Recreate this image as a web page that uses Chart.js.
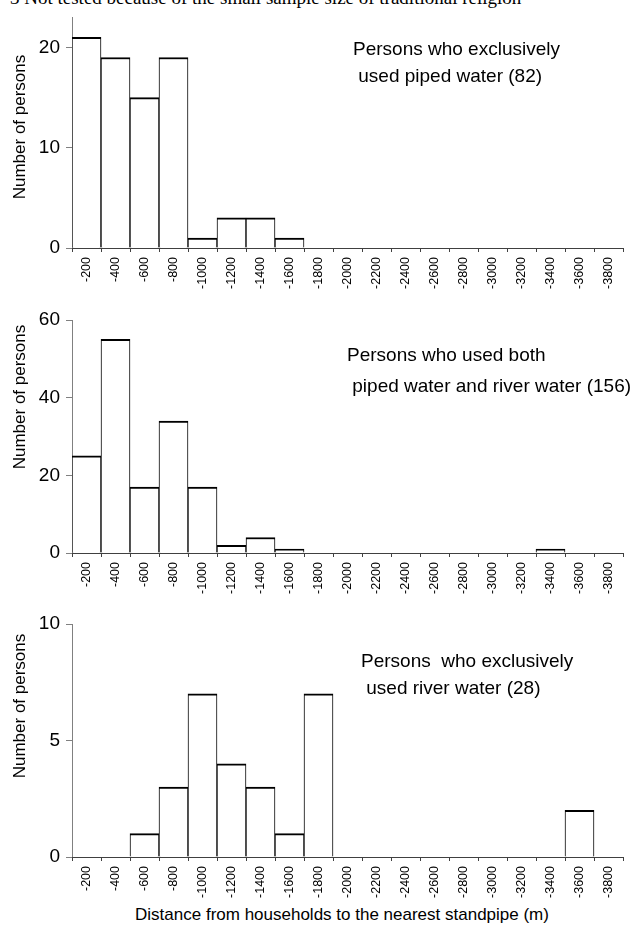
<!DOCTYPE html>
<html><head><meta charset="utf-8">
<script src="https://cdn.jsdelivr.net/npm/chart.js@4.4.0/dist/chart.umd.min.js"></script>
<style>
html,body{margin:0;padding:0;background:#fff;}
#wrap{position:relative;width:634px;height:930px;overflow:hidden;font-family:'Liberation Sans',Arial,sans-serif;color:#000;}
canvas{position:absolute;left:0;}
.t{position:absolute;white-space:pre;font-size:19px;line-height:19px;}
.yt{position:absolute;white-space:pre;font-size:17px;line-height:17px;transform:translate(-50%,-50%) rotate(-90deg);}
.note{position:absolute;left:10px;top:-12px;white-space:pre;font-family:'Liberation Serif','Times New Roman',serif;font-size:19px;line-height:19px;}
.xt{position:absolute;white-space:pre;font-size:17px;line-height:17px;transform:translateX(-50%);}
</style></head><body>
<div id="wrap">
<div class="note">3 Not tested because of the small sample size of traditional religion</div>
<canvas id="c1" width="634" height="300" style="top:0px"></canvas>
<canvas id="c2" width="634" height="300" style="top:300px"></canvas>
<canvas id="c3" width="634" height="300" style="top:600px"></canvas>
<div class="yt" style="left:19px;top:127px">Number of persons</div>
<div class="yt" style="left:19px;top:397px">Number of persons</div>
<div class="yt" style="left:19px;top:706px">Number of persons</div>
<div class="t" style="left:353px;top:39px">Persons who exclusively</div>
<div class="t" style="left:353px;top:66px"> used piped water (82)</div>
<div class="t" style="left:347px;top:345px">Persons who used both</div>
<div class="t" style="left:347px;top:376px"> piped water and river water (156)</div>
<div class="t" style="left:361px;top:651px">Persons  who exclusively</div>
<div class="t" style="left:361px;top:678px"> used river water (28)</div>
<div class="xt" style="left:342px;top:906px">Distance from households to the nearest standpipe (m)</div>
</div>
<script>
const categories = ['-200','-400','-600','-800','-1000','-1200','-1400','-1600','-1800','-2000','-2200','-2400','-2600','-2800','-3000','-3200','-3400','-3600','-3800'];
const pipedOnly = [21,19,15,19,1,3,3,1,0,0,0,0,0,0,0,0,0,0,0];
const pipedAndRiver = [25,55,17,34,17,2,4,1,0,0,0,0,0,0,0,0,1,0,0];
const riverOnly = [0,0,1,3,7,4,3,1,7,0,0,0,0,0,0,0,0,2,0];
const yMaxes = [23,60,10];
const ySteps = [10,20,5];

const FONT = "'Liberation Sans', Arial, sans-serif";

function makeChart(id, values, yMax, yStep, padTop, xH){
  return new Chart(document.getElementById(id), {
    type:'bar',
    data:{labels:categories, datasets:[{data:values, backgroundColor:'#ffffff', borderColor:'#000000',
      borderWidth:{top:2,left:1,right:1,bottom:0}, borderSkipped:false, barPercentage:1, categoryPercentage:1}]},
    options:{responsive:false, animation:false, events:[],
      layout:{padding:{top:padTop,left:0,right:11,bottom:0}},
      plugins:{legend:{display:false}, tooltip:{enabled:false}, title:{display:false}},
      scales:{
        x:{offset:true,
          grid:{offset:true, drawOnChartArea:false, drawTicks:true, tickLength:4, tickColor:'#404040', lineWidth:1},
          border:{display:true, color:'#404040', width:1, z:1},
          ticks:{autoSkip:false, minRotation:90, maxRotation:90, padding:5, color:'#000', font:{family:FONT, size:12.5}},
          afterFit:s=>{s.height=xH;}},
        y:{min:0, max:yMax,
          grid:{drawOnChartArea:false, drawTicks:true, tickLength:6, tickColor:'#808080'},
          border:{display:true, color:'#808080', width:1},
          ticks:{stepSize:yStep, includeBounds:false, padding:6, color:'#000', font:{family:FONT, size:19}},
          afterFit:s=>{s.width=72;}}
      }}
  });
}
makeChart('c1', pipedOnly, yMaxes[0], ySteps[0], 15, 52);
makeChart('c2', pipedAndRiver, yMaxes[1], ySteps[1], 20, 47);
makeChart('c3', riverOnly, yMaxes[2], ySteps[2], 24, 43);
</script>
</body></html>
